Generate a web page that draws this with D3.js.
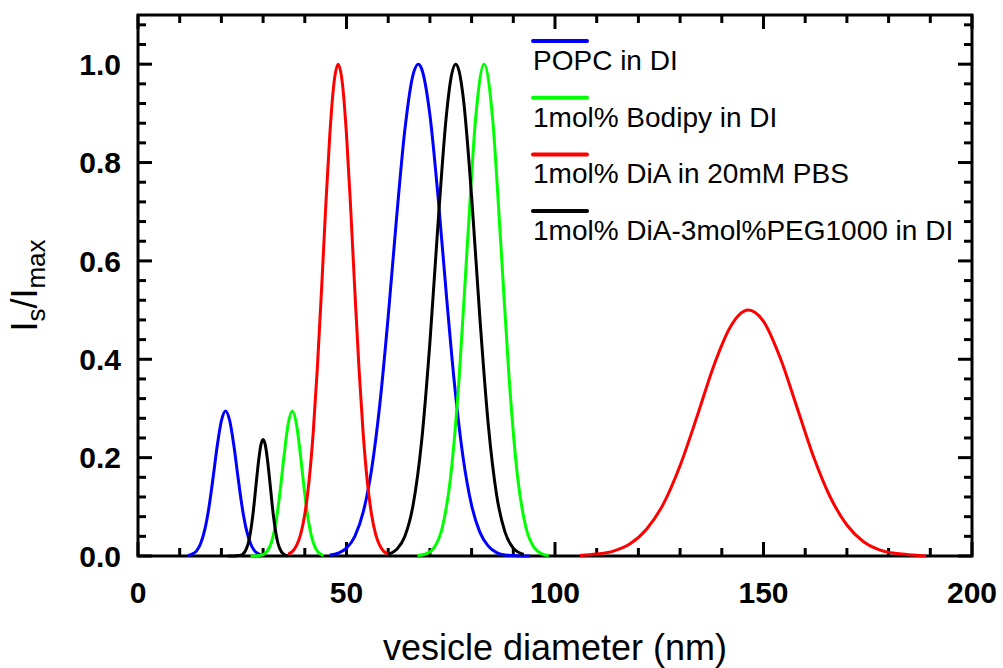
<!DOCTYPE html>
<html lang="en">
<head>
<meta charset="utf-8">
<title>Vesicle size distribution</title>
<script src="https://d3js.org/d3.v7.min.js"></script>
<style>
body{
  margin: 0;
  background: #fff;
}
svg text{
  font-family: "Liberation Sans", Arial, sans-serif;
  fill: #000;
}
.ticklbl{
  font-size: 30px;
  font-weight: bold;
}
.legend text{
  font-size: 28px;
}
</style>
</head>
<body>
<div id="chart"></div>
<script>
// x ticks / y ticks
const xTicks = [0, 50, 100, 150, 200];
const yTicks = [0.0, 0.2, 0.4, 0.6, 0.8, 1.0];
const seriesNames = ["POPC in DI", "1mol% Bodipy in DI", "1mol% DiA in 20mM PBS", "1mol% DiA-3mol%PEG1000 in DI"];
const seriesColors = ["#0000ff", "#00ff00", "#ff0000", "#000000"];

// values (null = gap between peaks)
const popcX = [12, 13, 14, 15, 16, 17, 18, 19, 20, 21, 22, 23, 24, 25, 26, 27, 28, 29, 29.5, 38,
  46, 48, 50, 52, 54, 56, 58, 60, 62, 64, 66, 67.2, 68, 70, 72, 74, 76, 78, 80, 82, 84, 86, 88, 90, 94];
const popcY = [0.001, 0.004, 0.010, 0.025, 0.053, 0.098, 0.159, 0.224, 0.275, 0.295, 0.275, 0.224, 0.159, 0.098, 0.053, 0.025, 0.010, 0.004, 0.002, null,
  0.002, 0.006, 0.016, 0.040, 0.089, 0.175, 0.309, 0.487, 0.687, 0.867, 0.980, 1.000, 0.991, 0.897, 0.726, 0.526, 0.341, 0.198, 0.103, 0.048, 0.020, 0.007, 0.002, 0.001, 0.000];

const bodipyX = [27, 28, 29, 30, 31, 32, 33, 34, 35, 36, 37, 38, 39, 40, 41, 42, 43, 44, 44.5, 55,
  67, 69, 71, 73, 75, 77, 79, 81, 83, 85, 87, 89, 91, 93, 95, 97, 98.5];
const bodipyY = [0.000, 0.000, 0.001, 0.003, 0.010, 0.028, 0.065, 0.126, 0.202, 0.268, 0.295, 0.268, 0.202, 0.126, 0.065, 0.028, 0.010, 0.003, 0.001, null,
  0.001, 0.004, 0.017, 0.059, 0.163, 0.361, 0.635, 0.893, 1.000, 0.893, 0.635, 0.361, 0.163, 0.059, 0.017, 0.004, 0.001];

const pbsX = [36, 37, 38, 39, 40, 41, 42, 43, 44, 45, 46, 47, 48, 49, 50, 51, 52, 53, 54, 55, 56, 57, 58, 59, 60, 80,
  106, 110, 114, 118, 122, 126, 130, 134, 138, 142, 144, 146.4, 148, 150, 154, 158, 162, 166, 170, 174, 178, 182, 186, 189];
const pbsY = [0.004, 0.009, 0.021, 0.044, 0.085, 0.151, 0.249, 0.381, 0.539, 0.707, 0.857, 0.962, 1.000, 0.962, 0.857, 0.707, 0.539, 0.381, 0.249, 0.151, 0.085, 0.044, 0.021, 0.009, 0.004, null,
  0.001, 0.004, 0.010, 0.025, 0.055, 0.106, 0.184, 0.282, 0.385, 0.465, 0.489, 0.500, 0.495, 0.477, 0.403, 0.303, 0.202, 0.120, 0.063, 0.029, 0.012, 0.005, 0.002, 0.000];

const pegX = [21.5, 23, 24, 25, 26, 26.5, 27, 27.5, 28, 28.5, 29, 29.5, 30, 30.5, 31, 31.5, 32, 32.5, 33, 33.5, 34, 35, 36, 48,
  60, 62, 64, 66, 68, 70, 72, 74, 75, 76.2, 77, 78, 80, 82, 84, 86, 88, 90, 92.5];
const pegY = [0.000, 0.000, 0.001, 0.003, 0.015, 0.028, 0.050, 0.080, 0.119, 0.161, 0.199, 0.227, 0.237, 0.227, 0.199, 0.161, 0.119, 0.080, 0.050, 0.028, 0.015, 0.003, 0.000, null,
  0.003, 0.013, 0.040, 0.105, 0.232, 0.434, 0.682, 0.900, 0.969, 1.000, 0.986, 0.932, 0.731, 0.482, 0.267, 0.124, 0.049, 0.016, 0.003];

const seriesX = [popcX, bodipyX, pbsX, pegX];
const seriesY = [popcY, bodipyY, pbsY, pegY];

var W = 1003, H = 668;
var margin = {top: 15, right: 31, bottom: 112, left: 138};
var w = W - margin.left - margin.right,
    h = H - margin.top - margin.bottom;

var svg = d3.select("#chart")
  .append("svg")
  .attr("width", W)
  .attr("height", H);

var chart = svg.append("g")
  .attr("transform", "translate(" + margin.left + "," + margin.top + ")");

var x = d3.scaleLinear().domain([0, 200]).range([0, w]);
var y = d3.scaleLinear().domain([0, 1.1]).range([h, 0]);

// minor ticks every 10 nm / 0.04, majors every 50 / 0.2
var xMinor = d3.range(0, 201, 10);
var yMinor = d3.range(0, 1.1, 0.04).map(function(v){ return +v.toFixed(2); });

function isMajorX(v){ return v % 50 === 0; }
function isMajorY(v){ return Math.abs(v*5 - Math.round(v*5)) < 1e-6; }

var ticks = chart.append("g")
  .attr("stroke", "#000")
  .attr("stroke-width", 3);

xMinor.forEach(function(v){
  var len = isMajorX(v) ? 14 : 8;
  ticks.append("line").attr("x1", x(v)).attr("x2", x(v)).attr("y1", h).attr("y2", h - len);
  ticks.append("line").attr("x1", x(v)).attr("x2", x(v)).attr("y1", 0).attr("y2", len);
});
yMinor.forEach(function(v){
  var len = isMajorY(v) ? 14 : 8;
  ticks.append("line").attr("y1", y(v)).attr("y2", y(v)).attr("x1", 0).attr("x2", len);
  ticks.append("line").attr("y1", y(v)).attr("y2", y(v)).attr("x1", w).attr("x2", w - len);
});

// frame
chart.append("rect")
  .attr("x", 0).attr("y", 0)
  .attr("width", w).attr("height", h)
  .attr("fill", "none")
  .attr("stroke", "#000")
  .attr("stroke-width", 3);

// tick labels
chart.append("g").selectAll("text")
  .data(xTicks)
  .enter()
  .append("text")
  .attr("class", "ticklbl")
  .attr("x", function(d){ return x(d); })
  .attr("y", h + 47)
  .attr("text-anchor", "middle")
  .text(function(d){ return d; });

chart.append("g").selectAll("text")
  .data(yTicks)
  .enter()
  .append("text")
  .attr("class", "ticklbl")
  .attr("x", -17)
  .attr("y", function(d){ return y(d); })
  .attr("dy", "0.36em")
  .attr("text-anchor", "end")
  .text(function(d){ return d.toFixed(1); });

// axis titles
svg.append("text")
  .attr("x", margin.left + w/2)
  .attr("y", 660)
  .attr("text-anchor", "middle")
  .style("font-size", "36px")
  .text("vesicle diameter (nm)");

var ylab = svg.append("text")
  .attr("transform", "translate(37," + (margin.top + h/2) + ") rotate(-90)")
  .attr("text-anchor", "middle")
  .style("font-size", "36px");
ylab.append("tspan").text("I");
ylab.append("tspan").attr("dy", 8).style("font-size", "26px").text("s");
ylab.append("tspan").attr("dy", -8).text("/I");
ylab.append("tspan").attr("dy", 8).style("font-size", "26px").text("max");

// curves
var line = d3.line()
  .defined(function(d){ return d[1] !== null; })
  .x(function(d){ return x(d[0]); })
  .y(function(d){ return y(d[1]); })
  .curve(d3.curveMonotoneX);

seriesX.forEach(function(xs, i){
  var pts = xs.map(function(v, j){ return [v, seriesY[i][j]]; });
  chart.append("path")
    .datum(pts)
    .attr("fill", "none")
    .attr("stroke", seriesColors[i])
    .attr("stroke-width", 3)
    .attr("stroke-linejoin", "round")
    .attr("d", line);
});

// legend
var legend = svg.append("g").attr("class", "legend");
seriesNames.forEach(function(name, i){
  var top = 41 + i*56.7;
  legend.append("line")
    .attr("x1", 533).attr("x2", 587)
    .attr("y1", top).attr("y2", top)
    .attr("stroke", seriesColors[i])
    .attr("stroke-width", 4)
    .attr("stroke-linecap", "round");
  legend.append("text")
    .attr("x", 533)
    .attr("y", top + 29)
    .text(name);
});
</script>
</body>
</html>
